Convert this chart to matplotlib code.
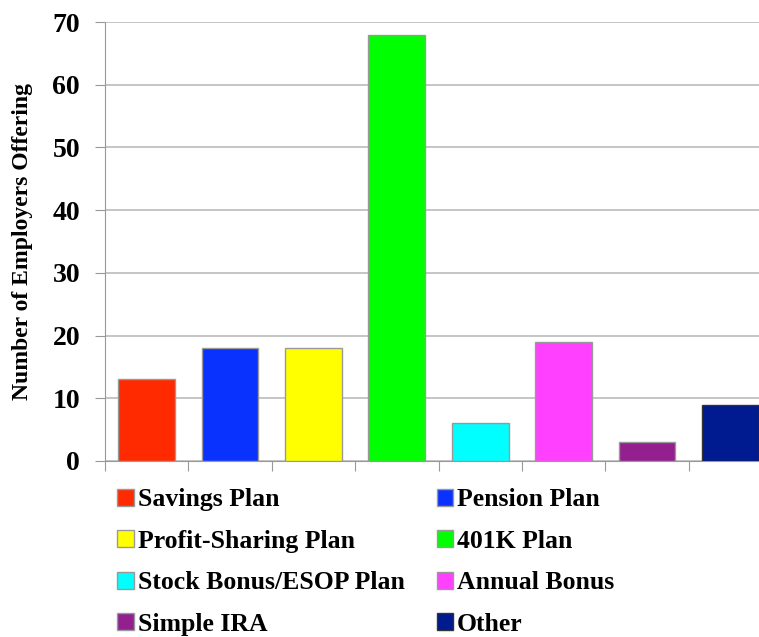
import matplotlib.pyplot as plt
import matplotlib.patches as mpatches
import numpy as np

# retirement plans offered by employers
plans = ['Savings Plan', 'Pension Plan', 'Profit-Sharing Plan', '401K Plan',
         'Stock Bonus/ESOP Plan', 'Annual Bonus', 'Simple IRA', 'Other']
employers = [13, 18, 18, 68, 6, 19, 3, 9]
colors = ['#ff2a00', '#0a32ff', '#ffff00', '#00ff00',
          '#00ffff', '#ff40ff', '#93208f', '#001a8f']
edges = ['#999999'] * 7 + ['#333333']

plt.rcParams['font.family'] = ['Liberation Serif', 'DejaVu Serif']
plt.rcParams['font.weight'] = 'bold'

fig = plt.figure(figsize=(7.59, 6.37), dpi=100)
# the plot area runs a little past the right edge of the figure
ax = fig.add_axes([105 / 759, 1 - 461 / 637, 667 / 759, 439 / 637])

x = np.arange(len(plans))
ax.bar(x, employers, width=0.68, color=colors, edgecolor=edges, linewidth=1.0, zorder=3)

ax.set_xlim(-0.5, len(plans) - 0.5)
ax.set_ylim(0, 70)
ax.set_yticks(np.arange(0, 71, 10))
ax.tick_params(axis='y', labelsize=20, length=7, color='#999999', pad=11)
ax.set_xticks(np.arange(-0.5, len(plans), 1))
ax.set_xticklabels([])
ax.tick_params(axis='x', length=7, color='#999999')
ax.grid(axis='y', color='#bbbbbb', linewidth=1.2, zorder=0)
for side in ['top', 'right']:
    ax.spines[side].set_visible(False)
for side in ['left', 'bottom']:
    ax.spines[side].set_color('#999999')
ax.set_ylabel('Number of Employers Offering', fontsize=17, fontweight='bold')
ax.yaxis.set_label_coords(-72 / 667, 0.5)

# legend fills column-wise, so reorder to read across rows
handles = [mpatches.Patch(facecolor=c, edgecolor=e, linewidth=1.0) for c, e in zip(colors, edges)]
order = [0, 2, 4, 6, 1, 3, 5, 7]
fig.legend([handles[i] for i in order], [plans[i] for i in order],
           ncol=2, loc='upper left', bbox_to_anchor=(94 / 759, 1 - 465 / 637),
           frameon=False, fontsize=18.5, handlelength=0.65, handleheight=0.65,
           handletextpad=0.15, columnspacing=1.25, labelspacing=0.72)

fig.savefig('out.png', dpi=100)
